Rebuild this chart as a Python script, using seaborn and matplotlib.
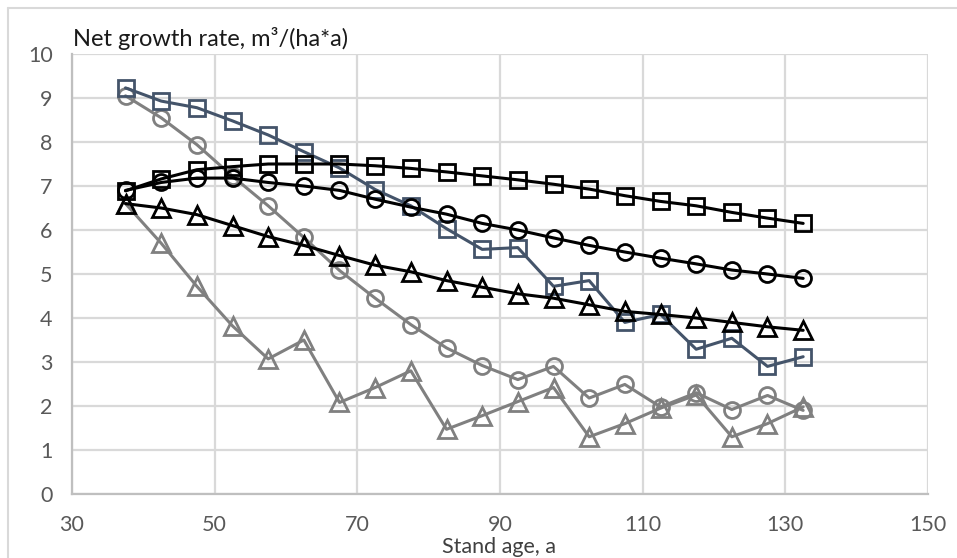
import matplotlib
matplotlib.use("Agg")
import matplotlib.pyplot as plt
import seaborn as sns
import numpy as np
from matplotlib.lines import Line2D

# ---- data ----
age = [37.5, 42.5, 47.5, 52.5, 57.5, 62.5, 67.5, 72.5, 77.5, 82.5,
       87.5, 92.5, 97.5, 102.5, 107.5, 112.5, 117.5, 122.5, 127.5, 132.5]

blue_squares = [9.23, 8.93, 8.78, 8.48, 8.16, 7.78, 7.41, 6.92, 6.55, 6.03,
                5.56, 5.6, 4.72, 4.85, 3.9, 4.08, 3.29, 3.54, 2.9, 3.12]
black_squares = [6.89, 7.16, 7.37, 7.44, 7.5, 7.5, 7.5, 7.46, 7.4, 7.32,
                 7.23, 7.14, 7.04, 6.93, 6.78, 6.65, 6.55, 6.4, 6.27, 6.15]
black_circles = [6.9, 7.08, 7.18, 7.18, 7.08, 7.0, 6.9, 6.7, 6.52, 6.36,
                 6.15, 6.0, 5.82, 5.65, 5.5, 5.36, 5.23, 5.09, 5.0, 4.9]
black_triangles = [6.6, 6.5, 6.35, 6.1, 5.85, 5.65, 5.42, 5.2, 5.05, 4.85,
                   4.7, 4.55, 4.45, 4.3, 4.15, 4.08, 4.0, 3.9, 3.8, 3.72]
gray_circles = [9.05, 8.55, 7.94, 7.22, 6.55, 5.83, 5.08, 4.45, 3.85, 3.32,
                2.92, 2.6, 2.9, 2.18, 2.49, 1.98, 2.3, 1.92, 2.24, 1.9]
gray_triangles = [6.6, 5.7, 4.72, 3.82, 3.07, 3.5, 2.08, 2.42, 2.8, 1.47,
                  1.78, 2.1, 2.42, 1.3, 1.6, 1.95, 2.25, 1.3, 1.6, 1.98]

x_ticks = [30, 50, 70, 90, 110, 130, 150]
y_ticks = [0, 1, 2, 3, 4, 5, 6, 7, 8, 9, 10]
title_text = "Net growth rate, m\u00b3/(ha*a)"
xlabel_text = "Stand age, a"

# ---- style ----
sns.set_theme(style="white")
plt.rcParams["font.family"] = ["Lato", "DejaVu Sans"]

W, H = 957, 558
fig = plt.figure(figsize=(W / 100, H / 100), dpi=100)
fig.patch.set_facecolor("white")
ax = fig.add_axes([72 / W, 1 - 494 / H, (928 - 72) / W, (494 - 54) / H])
ax.set_facecolor("white")

GRAY = "#808080"
BLUE = "#44546A"
BLACK = "#000000"
lw = 2.2
mew = 2.0
ms = 11.5

series = [
    (gray_triangles, GRAY, "^", ms + 1),
    (gray_circles, GRAY, "o", ms),
    (blue_squares, BLUE, "s", ms),
    (black_triangles, BLACK, "^", ms + 1),
    (black_circles, BLACK, "o", ms),
    (black_squares, BLACK, "s", ms),
]
for vals, col, mk, size in series:
    sns.lineplot(x=age, y=vals, ax=ax, color=col, linewidth=lw, marker=mk,
                 markersize=size, markerfacecolor="none", markeredgecolor=col,
                 markeredgewidth=mew, zorder=3)

ax.set_xlim(30, 150)
ax.set_ylim(0, 10)
ax.set_xticks(x_ticks)
ax.set_yticks(y_ticks)
ax.set_xticklabels([str(v) for v in x_ticks])
ax.set_yticklabels([str(v) for v in y_ticks])
ax.grid(True, color="#D9D9D9", linewidth=1.6, zorder=0)
ax.set_axisbelow(True)
for s in ["top", "right"]:
    ax.spines[s].set_visible(False)
for s in ["left", "bottom"]:
    ax.spines[s].set_color("#BFBFBF")
    ax.spines[s].set_linewidth(1.6)
ax.tick_params(axis="both", length=0, labelsize=15.5, colors="#595959")
ax.tick_params(axis="x", pad=15)
ax.tick_params(axis="y", pad=14)
ax.set_xlabel("")
ax.set_ylabel("")

fig.text(73 / W, 1 - 46 / H, title_text, ha="left", va="baseline",
         fontsize=17, color="#1a1a1a")
fig.text(499 / W, 1 - 553 / H, xlabel_text, ha="center", va="baseline",
         fontsize=15.5, color="#404040")

# chart area border (top and left edges visible)
fig.add_artist(Line2D([8 / W, 1], [1 - 8 / H, 1 - 8 / H], transform=fig.transFigure,
                      color="#D9D9D9", linewidth=1.5))
fig.add_artist(Line2D([8 / W, 8 / W], [0, 1 - 8 / H], transform=fig.transFigure,
                      color="#D9D9D9", linewidth=1.5))

fig.savefig("out.png", dpi=100)
